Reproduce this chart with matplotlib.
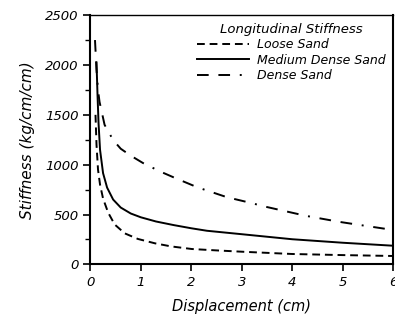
import matplotlib.pyplot as plt
from matplotlib.ticker import MultipleLocator

plt.rcParams['font.family'] = ['DejaVu Sans']

# Longitudinal stiffness vs displacement
loose_x = [0.10, 0.12, 0.15, 0.19, 0.25, 0.35, 0.48, 0.68, 0.94, 1.28, 1.6, 2.01,
           2.5, 3.0, 4.0, 5.0, 6.0]
loose_y = [1500, 1200, 950, 800, 660, 520, 400, 311, 255, 211, 180, 154,
           140, 127, 104, 93, 84]

medium_x = [0.12, 0.14, 0.16, 0.19, 0.25, 0.33, 0.45, 0.6, 0.8, 1.0, 1.3, 1.65,
            2.0, 2.31, 2.97, 4.0, 5.0, 6.0]
medium_y = [2025, 1700, 1420, 1150, 915, 770, 650, 570, 510, 472, 430, 394,
            362, 337, 304, 252, 217, 187]

dense_x = [0.09, 0.12, 0.15, 0.18, 0.28, 0.45, 0.6, 0.8, 1.04, 1.38, 1.68, 2.12,
           2.71, 3.15, 3.5, 4.28, 4.94, 5.42, 6.0]
dense_y = [2250, 1950, 1750, 1630, 1400, 1247, 1160, 1090, 1017, 932, 866, 773,
           673, 620, 575, 486, 426, 389, 345]


def main():
    fig = plt.figure(figsize=(3.95, 3.22), dpi=100)
    ax = fig.add_axes([0.229, 0.179, 0.766, 0.774])

    ax.plot(loose_x, loose_y, color='black', lw=1.4, ls=(0, (4, 2.5)), label='Loose Sand')
    ax.plot(medium_x, medium_y, color='black', lw=1.4, ls='-', label='Medium Dense Sand')
    ax.plot(dense_x, dense_y, color='black', lw=1.4, ls=(0, (6, 5, 6, 5, 1, 5)),
            label='Dense Sand')

    ax.set_xlim(0, 6)
    ax.set_ylim(0, 2500)
    ax.xaxis.set_major_locator(MultipleLocator(1))
    ax.yaxis.set_major_locator(MultipleLocator(500))
    ax.yaxis.set_minor_locator(MultipleLocator(250))
    ax.tick_params(axis='both', which='major', direction='out', length=5, width=1.2,
                   labelsize=9.5)
    ax.tick_params(axis='y', which='minor', direction='out', length=3.5, width=1.0)
    for lab in ax.get_xticklabels() + ax.get_yticklabels():
        lab.set_fontstyle('italic')
    for sp in ax.spines.values():
        sp.set_linewidth(1.5)
    ax.spines['top'].set_linewidth(1.0)

    ax.set_xlabel('Displacement (cm)', fontsize=10.5, fontstyle='italic', labelpad=7)
    ax.set_ylabel('Stiffness (kg/cm/cm)', fontsize=11, fontstyle='italic', labelpad=7)

    leg = ax.legend(loc='upper right', bbox_to_anchor=(1.0, 1.0), frameon=False,
                    title='Longitudinal Stiffness', handlelength=4.2,
                    prop={'style': 'italic', 'size': 9}, labelspacing=0.2,
                    borderaxespad=0.2, handletextpad=0.6)
    leg.get_title().set_fontstyle('italic')
    leg.get_title().set_fontsize(9.5)

    fig.savefig('out.png', dpi=100)


if __name__ == "__main__":
    main()
